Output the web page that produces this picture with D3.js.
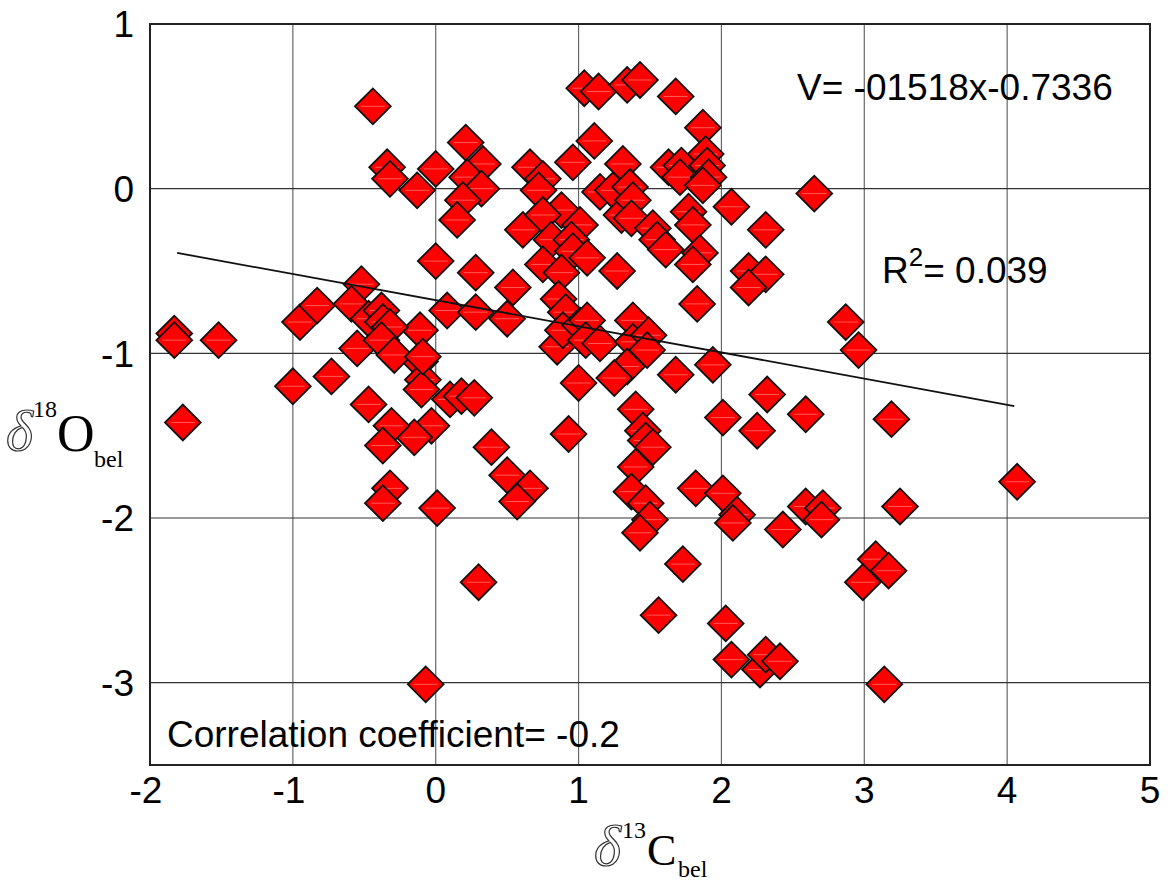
<!DOCTYPE html>
<html>
<head>
<meta charset="utf-8">
<script src="https://cdn.jsdelivr.net/npm/d3@7"></script>
<style>
  body { margin: 0; background: #fff; }
  svg { display: block; }
  .tick-label { font-family: "Liberation Sans", Arial, sans-serif; font-size: 37px; fill: #000; }
  .note { font-family: "Liberation Sans", Arial, sans-serif; font-size: 37px; fill: #000; }
  .serif { font-family: "Liberation Serif", "Times New Roman", serif; fill: #000; }
  .delta { font-family: "Liberation Serif", "Times New Roman", serif; font-style: italic; fill: #fff; stroke: #333; stroke-width: 1.2; }
</style>
</head>
<body>
<div id="chart"></div>
<script>
// d13C values (x)
const xValues = [
  1.04, 1.14, 1.34, 1.43, 1.68, 1.87, 0.21, 1.11, 0.96, 1.31,
  0.00, -0.34, -0.32, -0.44, 0.33, 0.66, 0.75, 0.72, 0.22, 0.32,
  -0.13, 0.19, 0.15, 0.88, 1.01, 0.61, 0.75, 0.81, 0.95, 0.96,
  1.06, 0.75, 0.88, 0.86, 0.00, 0.28, 0.54, 1.15, 1.24, 1.36,
  1.30, 1.38, 1.37, 1.52, 1.55, 1.61, 1.63, 1.72, 1.71, 1.89,
  1.90, 1.91, 1.87, 1.77, 1.80, 1.85, 1.80, 1.83, 2.07, 2.31,
  2.19, 2.31, 2.19, 2.65, 1.27, 0.08, 0.28, 0.50, -0.11, -0.11,
  -0.09, -0.10, 0.10, 0.18, 0.27, -0.03, -0.15, 0.39, 0.50, 0.66,
  0.57, 0.01, 0.30, 0.85, 0.91, 0.89, 1.01, 1.06, 1.05, 1.15,
  1.38, 1.38, 1.49, 1.48, 1.34, 1.25, 1.00, 1.68, 1.94, 2.32,
  2.59, 2.01, 2.25, 0.93, 1.40, 1.45, 1.47, 1.52, 1.40, 1.37,
  1.47, 1.50, 1.43, 1.82, 2.01, 2.11, 2.08, 2.43, 1.73, 2.87,
  2.96, 3.19, 4.07, 3.25, 2.59, 2.71, 2.70, 3.08, 3.17, 2.99,
  1.56, 2.03, 2.07, 2.27, 2.31, 2.41, -0.07, 3.14, -1.83, -1.83,
  -1.52, -1.77, -1.00, -0.73, -0.95, -0.83, -0.52, -0.59, -0.47, -0.38,
  -0.37, -0.32, -0.55, -0.38, -0.29, -0.09, -0.47, -0.31, -0.37, -0.32,
  -0.37
];

// d18O values (y)
const yValues = [
  0.61, 0.59, 0.63, 0.66, 0.56, 0.37, 0.28, 0.29, 0.16, 0.15,
  0.12, 0.13, 0.06, 0.50, 0.15, 0.13, 0.06, -0.01, 0.07, 0.00,
  -0.01, -0.07, -0.19, -0.13, -0.22, -0.25, -0.16, -0.31, -0.31, -0.38,
  -0.42, -0.46, -0.51, -0.67, -0.44, -0.51, -0.60, -0.02, -0.01, 0.01,
  -0.16, -0.07, -0.18, -0.24, -0.31, -0.37, 0.13, 0.14, 0.07, 0.21,
  0.14, 0.07, 0.02, -0.14, -0.22, -0.39, -0.46, -0.70, -0.11, -0.25,
  -0.50, -0.52, -0.60, -0.03, -0.50, -0.74, -0.75, -0.79, -0.86, -1.05,
  -1.16, -1.22, -1.28, -1.26, -1.27, -1.44, -1.51, -1.57, -1.74, -1.82,
  -1.90, -1.94, -2.39, -0.96, -0.75, -0.86, -0.83, -0.80, -0.92, -0.94,
  -0.80, -0.93, -0.89, -0.98, -1.08, -1.15, -1.18, -1.13, -1.07, -1.25,
  -1.37, -1.39, -1.47, -1.49, -1.34, -1.47, -1.53, -1.57, -1.69, -1.84,
  -1.91, -2.01, -2.09, -1.82, -1.85, -1.98, -2.03, -2.07, -2.28, -0.81,
  -0.98, -1.40, -1.78, -1.93, -1.93, -1.94, -2.01, -2.25, -2.32, -2.39,
  -2.59, -2.64, -2.86, -2.92, -2.83, -2.87, -3.01, -3.01, -0.88, -0.92,
  -0.92, -1.42, -1.20, -1.14, -0.81, -0.71, -0.58, -0.70, -0.79, -0.74,
  -0.81, -0.84, -0.97, -0.92, -1.01, -1.02, -1.31, -1.44, -1.56, -1.82,
  -1.91
];

const xTicks = [-2, -1, 0, 1, 2, 3, 4, 5];
const yTicks = [1, 0, -1, -2, -3];

// ends of the trend line as drawn
const trendX = [-1.81, 4.05];
const trendY = [-0.39, -1.32];

const points = xValues.map((x, i) => ({ x: x, y: yValues[i] }));

const W = 1170, H = 881;
const margin = { top: 24, right: 20, bottom: 116, left: 150 };

const svg = d3.select('#chart')
    .append('svg')
    .attr('width', W)
    .attr('height', H);

const xScale = d3.scaleLinear()
    .domain([-2, 5])
    .range([margin.left, W - margin.right]);

const yScale = d3.scaleLinear()
    .domain([-3.5, 1])
    .range([H - margin.bottom, margin.top]);

// grid
svg.append('g')
    .selectAll('line')
    .data(xTicks.slice(1, -1))
    .enter()
    .append('line')
    .attr('x1', d => xScale(d)).attr('x2', d => xScale(d))
    .attr('y1', yScale(1)).attr('y2', yScale(-3.5))
    .attr('stroke', '#666').attr('stroke-width', 1.2);

svg.append('g')
    .selectAll('line')
    .data(yTicks.slice(1))
    .enter()
    .append('line')
    .attr('x1', xScale(-2)).attr('x2', xScale(5))
    .attr('y1', d => yScale(d)).attr('y2', d => yScale(d))
    .attr('stroke', '#333').attr('stroke-width', 1.2);

// frame
svg.append('rect')
    .attr('x', xScale(-2))
    .attr('y', yScale(1))
    .attr('width', xScale(5) - xScale(-2))
    .attr('height', yScale(-3.5) - yScale(1))
    .attr('fill', 'none')
    .attr('stroke', '#222')
    .attr('stroke-width', 2);

// tick labels
svg.append('g')
    .selectAll('text')
    .data(yTicks)
    .enter()
    .append('text')
    .attr('class', 'tick-label')
    .attr('x', xScale(-2) - 16)
    .attr('y', d => yScale(d))
    .attr('dy', '0.36em')
    .attr('text-anchor', 'end')
    .text(d => d);

svg.append('g')
    .selectAll('text')
    .data(xTicks)
    .enter()
    .append('text')
    .attr('class', 'tick-label')
    .attr('x', d => xScale(d) - (d < 0 ? 4 : 0))
    .attr('y', yScale(-3.5) + 38)
    .attr('text-anchor', 'middle')
    .text(d => d);

// points
const diamond = d3.symbol().type(d3.symbolSquare).size(640);

const pts = svg.append('g')
    .selectAll('g')
    .data(points)
    .enter()
    .append('g')
    .attr('transform', d => `translate(${xScale(d.x)},${yScale(d.y)})`);

pts.append('path')
    .attr('d', diamond)
    .attr('transform', 'rotate(45)')
    .attr('fill', '#ff0000')
    .attr('stroke', '#111')
    .attr('stroke-width', 1.8);

pts.append('line')
    .attr('x1', -12).attr('x2', 12)
    .attr('y1', 0).attr('y2', 0)
    .attr('stroke', '#ff7070')
    .attr('stroke-width', 0.8);

// trend line
const trendLine = d3.line()
    .x(d => xScale(d[0]))
    .y(d => yScale(d[1]));

svg.append('path')
    .datum(trendX.map((x, i) => [x, trendY[i]]))
    .attr('d', trendLine)
    .attr('fill', 'none')
    .attr('stroke', '#111')
    .attr('stroke-width', 1.8);

// notes
svg.append('text')
    .attr('class', 'note')
    .attr('x', 797)
    .attr('y', 100)
    .text('V= -01518x-0.7336');

const r2 = svg.append('text')
    .attr('class', 'note')
    .attr('x', 882)
    .attr('y', 283);
r2.append('tspan').text('R');
r2.append('tspan').attr('font-size', '26px').attr('dy', -17).text('2');
r2.append('tspan').attr('dy', 17).text('= 0.039');

svg.append('text')
    .attr('class', 'note')
    .attr('x', 167)
    .attr('y', 747)
    .text('Correlation coefficient= -0.2');

// y axis title: delta 18 O bel
svg.append('text').attr('class', 'delta').attr('x', 6).attr('y', 450).attr('font-size', '58px').text('δ');
svg.append('text').attr('class', 'serif').attr('x', 33).attr('y', 417).attr('font-size', '24px').text('18');
svg.append('text').attr('class', 'serif').attr('x', 57).attr('y', 451).attr('font-size', '52px').text('O');
svg.append('text').attr('class', 'serif').attr('x', 94).attr('y', 467).attr('font-size', '24px').text('bel');

// x axis title: delta 13 C bel
svg.append('text').attr('class', 'delta').attr('x', 594).attr('y', 865).attr('font-size', '58px').text('δ');
svg.append('text').attr('class', 'serif').attr('x', 622).attr('y', 838).attr('font-size', '24px').text('13');
svg.append('text').attr('class', 'serif').attr('x', 647).attr('y', 865).attr('font-size', '44px').text('C');
svg.append('text').attr('class', 'serif').attr('x', 678).attr('y', 877).attr('font-size', '24px').text('bel');
</script>
</body>
</html>
